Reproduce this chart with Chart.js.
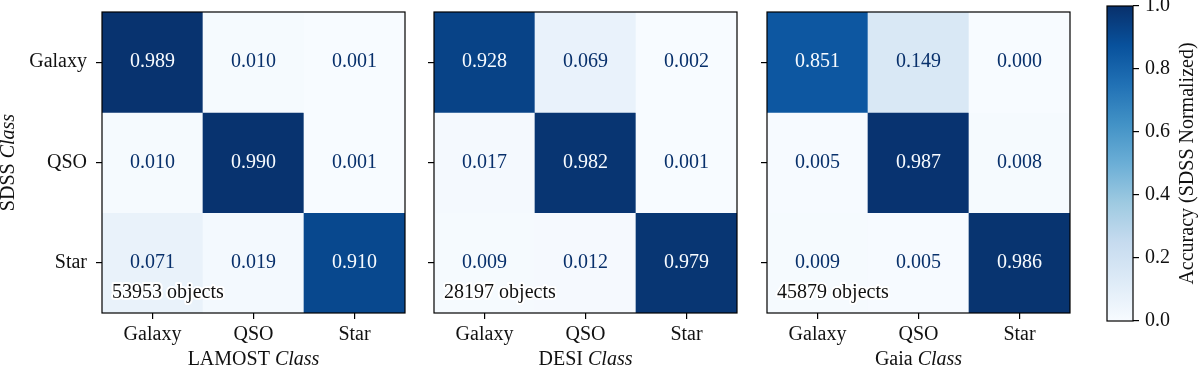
<!DOCTYPE html>
<html>
<head>
<meta charset="utf-8">
<script src="https://cdn.jsdelivr.net/npm/chart.js@4/dist/chart.umd.min.js"></script>
<style>
  body { margin: 0; background: #fff; }
  #wrap { position: relative; width: 1200px; height: 368px; overflow: hidden; }
  canvas { position: absolute; top: 0; }
</style>
</head>
<body>
<div id="wrap">
  <canvas id="m1" width="420" height="368" style="left:0px"></canvas>
  <canvas id="m2" width="420" height="368" style="left:332px"></canvas>
  <canvas id="m3" width="420" height="368" style="left:665px"></canvas>
  <canvas id="cb" width="140" height="368" style="left:1060px"></canvas>
</div>
<script>
// data
const classes = ['Galaxy', 'QSO', 'Star'];
const surveys = ['LAMOST', 'DESI', 'Gaia'];
const objectCounts = [53953, 28197, 45879];
const lamostMatrix = [
  [0.989, 0.010, 0.001],
  [0.010, 0.990, 0.001],
  [0.071, 0.019, 0.910],
];
const desiMatrix = [
  [0.928, 0.069, 0.002],
  [0.017, 0.982, 0.001],
  [0.009, 0.012, 0.979],
];
const gaiaMatrix = [
  [0.851, 0.149, 0.000],
  [0.005, 0.987, 0.008],
  [0.009, 0.005, 0.986],
];
const colorbarTicks = [0, 0.2, 0.4, 0.6, 0.8, 1.0];

const FONT = '"Liberation Serif", "DejaVu Serif", serif';
const FS = 20;
const TXT = '#111';

// matplotlib Blues
const blues = [
  [247, 251, 255], [222, 235, 247], [198, 219, 239], [158, 202, 225],
  [107, 174, 214], [66, 146, 198], [33, 113, 181], [8, 81, 156], [8, 48, 107],
];
function bluesColor(v) {
  const t = Math.max(0, Math.min(1, v)) * (blues.length - 1);
  const i = Math.min(Math.floor(t), blues.length - 2);
  const f = t - i;
  const a = blues[i], b = blues[i + 1];
  const c = a.map((x, k) => Math.round(x + (b[k] - x) * f));
  return 'rgb(' + c.join(',') + ')';
}

// no extra room for half tick labels, keep the axes box where we put it
function noScalePadding(scale) {
  scale.paddingTop = 0;
  scale.paddingBottom = 0;
  scale.paddingLeft = 0;
  scale.paddingRight = 0;
}

// frame around the axes
const framePlugin = {
  id: 'frame',
  afterDatasetsDraw(chart) {
    const { ctx, chartArea: a } = chart;
    ctx.save();
    ctx.strokeStyle = '#000';
    ctx.lineWidth = 1.2;
    ctx.strokeRect(a.left, a.top, a.right - a.left, a.bottom - a.top);
    ctx.restore();
  },
};

// mixed upright/italic text, centred on (x, y)
function mixedText(ctx, parts, x, y, size) {
  let total = 0;
  const widths = parts.map(p => {
    ctx.font = (p.italic ? 'italic ' : '') + size + 'px ' + FONT;
    const w = ctx.measureText(p.text).width;
    total += w;
    return w;
  });
  let cx = x - total / 2;
  ctx.textAlign = 'left';
  ctx.textBaseline = 'middle';
  parts.forEach((p, i) => {
    ctx.font = (p.italic ? 'italic ' : '') + size + 'px ' + FONT;
    ctx.fillText(p.text, cx, y);
    cx += widths[i];
  });
}

function makeMatrix(id, matrix, survey, count, first) {
  const datasets = matrix.map((row, r) => ({
    data: row.map(() => [r - 0.5, r + 0.5]),
    backgroundColor: row.map(v => bluesColor(v)),
    borderWidth: 0,
    grouped: false,
    barPercentage: 1,
    categoryPercentage: 1,
  }));

  const labelsPlugin = {
    id: 'cellLabels',
    afterDatasetsDraw(chart) {
      const { ctx, scales } = chart;
      ctx.save();
      ctx.font = FS + 'px ' + FONT;
      ctx.textAlign = 'center';
      ctx.textBaseline = 'middle';
      matrix.forEach((row, r) => {
        row.forEach((v, c) => {
          ctx.fillStyle = v > 0.5 ? '#f7fbff' : '#08306b';
          ctx.fillText(v.toFixed(3), scales.x.getPixelForValue(c), scales.y.getPixelForValue(r));
        });
      });
      // object count with white halo
      const txt = count + ' objects';
      const tx = scales.x.getPixelForValue(0) - (scales.x.getPixelForValue(1) - scales.x.getPixelForValue(0)) * 0.4;
      const ty = scales.y.getPixelForValue(2.3);
      ctx.textAlign = 'left';
      ctx.lineJoin = 'round';
      ctx.strokeStyle = '#fff';
      ctx.lineWidth = 4;
      ctx.strokeText(txt, tx, ty);
      ctx.fillStyle = TXT;
      ctx.fillText(txt, tx, ty);

      // axis titles
      const a = chart.chartArea;
      ctx.fillStyle = TXT;
      mixedText(ctx, [{ text: survey + ' ' }, { text: 'Class', italic: true }], (a.left + a.right) / 2, 360, FS);
      if (first) {
        ctx.translate(9, (a.top + a.bottom) / 2);
        ctx.rotate(-Math.PI / 2);
        mixedText(ctx, [{ text: 'SDSS ' }, { text: 'Class', italic: true }], 0, 0, FS);
      }
      ctx.restore();
    },
  };

  return new Chart(document.getElementById(id), {
    type: 'bar',
    data: { labels: classes, datasets: datasets },
    options: {
      responsive: false,
      animation: false,
      layout: { padding: { top: 12, right: 15, left: 0, bottom: 0 } },
      plugins: { legend: { display: false }, tooltip: { enabled: false } },
      scales: {
        x: {
          offset: true,
          grid: { offset: false, drawOnChartArea: false, drawTicks: true, tickLength: 6, color: '#000', lineWidth: 1.2 },
          border: { display: false },
          ticks: { color: TXT, font: { family: FONT, size: FS }, padding: 4, maxRotation: 0 },
          afterFit(scale) { scale.height = 55; noScalePadding(scale); },
        },
        y: {
          type: 'linear',
          min: -0.5,
          max: 2.5,
          reverse: true,
          afterBuildTicks(scale) { scale.ticks = classes.map((c, i) => ({ value: i })); },
          grid: { drawOnChartArea: false, drawTicks: true, tickLength: 6, color: '#000', lineWidth: 1.2 },
          border: { display: false },
          ticks: {
            display: true,
            color: first ? TXT : 'rgba(0,0,0,0)',
            font: { family: FONT, size: FS },
            padding: 9,
            callback: v => classes[v],
          },
          afterFit(scale) { scale.width = 102; noScalePadding(scale); },
        },
      },
    },
    plugins: [labelsPlugin, framePlugin],
  });
}

makeMatrix('m1', lamostMatrix, surveys[0], objectCounts[0], true);
makeMatrix('m2', desiMatrix, surveys[1], objectCounts[1], false);
makeMatrix('m3', gaiaMatrix, surveys[2], objectCounts[2], false);

// colorbar
const cbLabelPlugin = {
  id: 'cbLabel',
  afterDraw(chart) {
    const { ctx, chartArea: a } = chart;
    ctx.save();
    ctx.fillStyle = TXT;
    ctx.translate(128, (a.top + a.bottom) / 2);
    ctx.rotate(-Math.PI / 2);
    mixedText(ctx, [{ text: 'Accuracy (SDSS Normalized)' }], 0, 0, FS);
    ctx.restore();
  },
};

new Chart(document.getElementById('cb'), {
  type: 'bar',
  data: {
    labels: [''],
    datasets: [{
      data: [[0, 1]],
      borderWidth: 0,
      barPercentage: 1,
      categoryPercentage: 1,
      backgroundColor(context) {
        const { chart } = context;
        const a = chart.chartArea;
        if (!a) return bluesColor(0.5);
        const y = chart.scales.y;
        const g = chart.ctx.createLinearGradient(0, y.getPixelForValue(0), 0, y.getPixelForValue(1));
        blues.forEach((c, i) => g.addColorStop(i / (blues.length - 1), 'rgb(' + c.join(',') + ')'));
        return g;
      },
    }],
  },
  options: {
    responsive: false,
    animation: false,
    layout: { padding: { top: 6, left: 47, right: 0, bottom: 47 } },
    plugins: { legend: { display: false }, tooltip: { enabled: false } },
    scales: {
      x: { display: false, offset: true },
      y: {
        position: 'right',
        min: 0,
        max: 1,
        afterBuildTicks(scale) { scale.ticks = colorbarTicks.map(v => ({ value: v })); },
        grid: { drawOnChartArea: false, drawTicks: true, tickLength: 6, color: '#000', lineWidth: 1.2 },
        border: { display: false },
        ticks: { color: TXT, font: { family: FONT, size: FS }, padding: 6, callback: v => v.toFixed(1) },
        afterFit(scale) { scale.width = 67; noScalePadding(scale); },
      },
    },
  },
  plugins: [framePlugin, cbLabelPlugin],
});
</script>
</body>
</html>
